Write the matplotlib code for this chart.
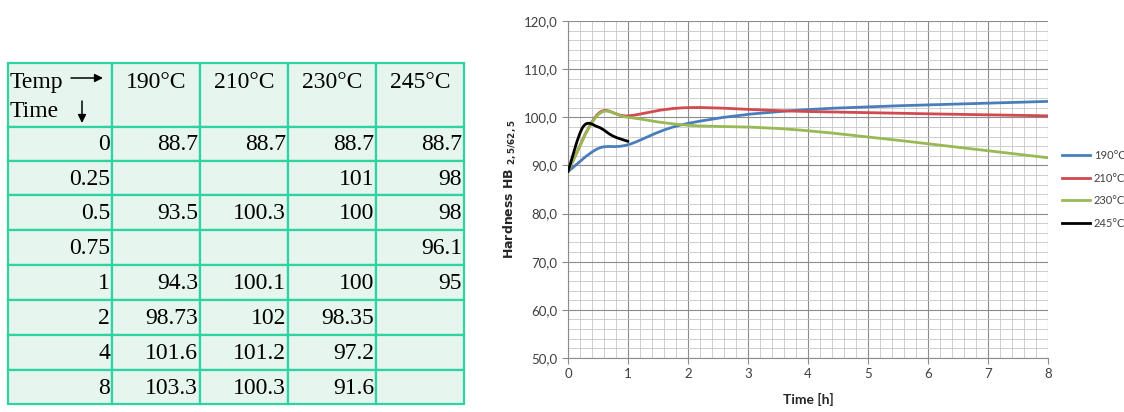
import matplotlib
matplotlib.use("Agg")
import matplotlib.pyplot as plt
from matplotlib.path import Path
from matplotlib.patches import PathPatch, Rectangle
from matplotlib.lines import Line2D
from matplotlib.ticker import MultipleLocator, FuncFormatter

# hardness table (HB), blanks where no measurement was taken
temps = ["190°C", "210°C", "230°C", "245°C"]
times = ["0", "0.25", "0.5", "0.75", "1", "2", "4", "8"]
col_190 = ["88.7", "", "93.5", "", "94.3", "98.73", "101.6", "103.3"]
col_210 = ["88.7", "", "100.3", "", "100.1", "102", "101.2", "100.3"]
col_230 = ["88.7", "101", "100", "", "100", "98.35", "97.2", "91.6"]
col_245 = ["88.7", "98", "98", "96.1", "95", "", "", ""]

# series as plotted on the chart
t_190 = [0, 0.5, 1, 2, 4, 8]
hb_190 = [88.7, 93.5, 94.3, 98.73, 101.6, 103.3]
t_210 = [0, 0.5, 1, 2, 4, 8]
hb_210 = [88.7, 100.7, 100.3, 102, 101.2, 100.3]
t_230 = [0, 0.5, 1, 2, 4, 8]
hb_230 = [88.7, 100.5, 100, 98.35, 97.2, 91.6]
t_245 = [0, 0.25, 0.5, 0.75, 1]
hb_245 = [88.7, 98, 98, 96.1, 95]

W, H = 1124, 412
fig = plt.figure(figsize=(W / 100, H / 100), dpi=100)

# ---- table on the left, drawn in pixel coordinates ----
tab = fig.add_axes([0, 0, 1, 1])
tab.set_xlim(0, W)
tab.set_ylim(H, 0)
tab.axis("off")

col_x = [8, 112, 200, 288, 376, 464]
row_y = [63, 127, 161, 195, 230, 265, 300, 335, 370, 404]
edge = "#2fd3a2"
face = "#e6f5ee"
serif = ["Liberation Serif", "DejaVu Serif"]
fs = 17

for i in range(len(col_x) - 1):
    for j in range(len(row_y) - 1):
        tab.add_patch(Rectangle((col_x[i], row_y[j]), col_x[i + 1] - col_x[i],
                                row_y[j + 1] - row_y[j], facecolor=face,
                                edgecolor=edge, lw=1.6, zorder=1))

tab.text(col_x[0] + 2, 82, "Temp", family=serif, fontsize=fs, va="center", ha="left")
tab.text(col_x[0] + 2, 111, "Time", family=serif, fontsize=fs, va="center", ha="left")
tab.annotate("", xy=(103, 78), xytext=(71, 78),
             arrowprops=dict(arrowstyle="-|>", color="black", lw=1.1,
                             mutation_scale=12, shrinkA=0, shrinkB=0))
tab.annotate("", xy=(82, 123), xytext=(82, 101),
             arrowprops=dict(arrowstyle="-|>", color="black", lw=1.1,
                             mutation_scale=12, shrinkA=0, shrinkB=0))

for i, label in enumerate(temps):
    cx = (col_x[i + 1] + col_x[i + 2]) / 2
    tab.text(cx, 82, label, family=serif, fontsize=fs, va="center", ha="center")

columns = [times, col_190, col_210, col_230, col_245]
for i, col in enumerate(columns):
    for j, val in enumerate(col):
        if val:
            cy = (row_y[j + 1] + row_y[j + 2]) / 2 + 1
            tab.text(col_x[i + 1] - 2, cy, val, family=serif, fontsize=fs,
                     va="center", ha="right")

# ---- hardness vs time chart on the right ----
sans = ["Lato", "DejaVu Sans"]
ax = fig.add_axes([568 / W, 1 - 358 / H, 480 / W, 337 / H])
ax.set_xlim(0, 8)
ax.set_ylim(50, 120)
ax.xaxis.set_major_locator(MultipleLocator(1))
ax.xaxis.set_minor_locator(MultipleLocator(0.2))
ax.yaxis.set_major_locator(MultipleLocator(10))
ax.yaxis.set_minor_locator(MultipleLocator(2))
ax.grid(which="major", color="#8c8c8c", lw=0.8)
ax.grid(which="minor", color="#c6c6c6", lw=0.6)
ax.set_axisbelow(True)
ax.yaxis.set_major_formatter(FuncFormatter(lambda v, p: f"{v:.1f}".replace(".", ",")))
for s in ["top", "right"]:
    ax.spines[s].set_visible(False)
for s in ["left", "bottom"]:
    ax.spines[s].set_color("#8c8c8c")
ax.tick_params(which="major", length=4, color="#8c8c8c", labelsize=9.5,
               labelcolor="#404040")
ax.tick_params(which="minor", length=0)
for lab in ax.get_xticklabels() + ax.get_yticklabels():
    lab.set_family(sans)
ax.set_xlabel("Time [h]", family=sans, fontsize=10, fontweight="bold",
              color="#262626", labelpad=9)
plt.rcParams["mathtext.fontset"] = "custom"
plt.rcParams["mathtext.bf"] = "Lato:bold"
plt.rcParams["mathtext.rm"] = "Lato"
ax.set_ylabel(r"$\mathbf{Hardness\ HB}\ _{\mathbf{2,5/62,5}}$", fontsize=9,
              color="#262626", labelpad=4)


def smooth_path(xs, ys):
    # cubic bezier segments through every point (smoothed line)
    pts = list(zip(xs, ys))
    n = len(pts)
    verts = [pts[0]]
    codes = [Path.MOVETO]
    for i in range(n - 1):
        p0 = pts[max(i - 1, 0)]
        p1 = pts[i]
        p2 = pts[i + 1]
        p3 = pts[min(i + 2, n - 1)]
        c1 = (p1[0] + (p2[0] - p0[0]) / 6, p1[1] + (p2[1] - p0[1]) / 6)
        c2 = (p2[0] - (p3[0] - p1[0]) / 6, p2[1] - (p3[1] - p1[1]) / 6)
        verts += [c1, c2, p2]
        codes += [Path.CURVE4] * 3
    return Path(verts, codes)


series = [
    (t_190, hb_190, "#4a7ebb", "190°C"),
    (t_210, hb_210, "#d04a4f", "210°C"),
    (t_230, hb_230, "#98b954", "230°C"),
    (t_245, hb_245, "#000000", "245°C"),
]
handles = []
for xs, ys, c, name in series:
    ax.add_patch(PathPatch(smooth_path(xs, ys), facecolor="none", edgecolor=c,
                           lw=2.0, capstyle="round", zorder=3))
    handles.append(Line2D([], [], color=c, lw=2.0, label=name))

leg = fig.legend(handles=handles, loc="upper left", bbox_to_anchor=(1052 / W, 1 - 140 / H),
                 frameon=False, handlelength=2.5, handletextpad=0.35,
                 labelspacing=1.05, prop={"family": sans, "size": 8})
for t in leg.get_texts():
    t.set_color("#404040")

fig.savefig("out.png", dpi=100)
